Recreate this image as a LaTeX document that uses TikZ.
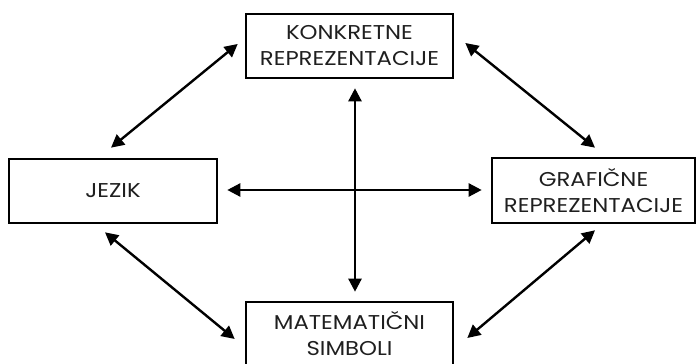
\documentclass[tikz,border=0pt]{standalone}
\usepackage{fontspec}
\setmainfont{Poppins}[FakeStretch=1.14]
\usetikzlibrary{calc,arrows.meta}
\begin{document}
\begin{tikzpicture}[x=1pt,y=1pt,
  box/.style={draw=black,line width=2.6pt,minimum width=207pt,minimum height=64pt,
    inner sep=0pt,align=center,font=\fontsize{20}{26}\selectfont,text=black!88},
  link/.style={line width=2.4pt,{Triangle[length=13pt,width=13pt]}-{Triangle[length=13pt,width=13pt]}}]
  \useasboundingbox (0,0) rectangle (697,364);
  \node[box] (konk) at (349.5,318) {KONKRETNE\\REPREZENTACIJE};
  \node[box,minimum width=208pt] (jezik) at (113,173) {JEZIK};
  \node[box,minimum width=203pt,minimum height=65pt] (graf) at (593.5,173.5) {GRAFIČNE\\REPREZENTACIJE};
  \node[box] (mat) at (349.5,30) {MATEMATIČNI\\SIMBOLI};
  % central cross
  \draw[link] ($(konk.south)+(5.5,-9)$) -- ($(mat.north)+(5.5,9)$);
  \draw[link] ($(jezik.east)+(9,1)$) -- ($(graf.west)+(-9,0.5)$);
  % diagonals
  \draw[link] ($(jezik.north)+(-2,10)$) -- ($(konk.west)+(-7,2)$);
  \draw[link] ($(konk.east)+(11,3)$) -- ($(graf.north)+(1.5,9)$);
  \draw[link] ($(jezik.south)+(-8,-8)$) -- ($(mat.west)+(-10,-5)$);
  \draw[link] ($(graf.south)+(1.5,-6)$) -- ($(mat.east)+(13,-4)$);
\end{tikzpicture}
\end{document}
